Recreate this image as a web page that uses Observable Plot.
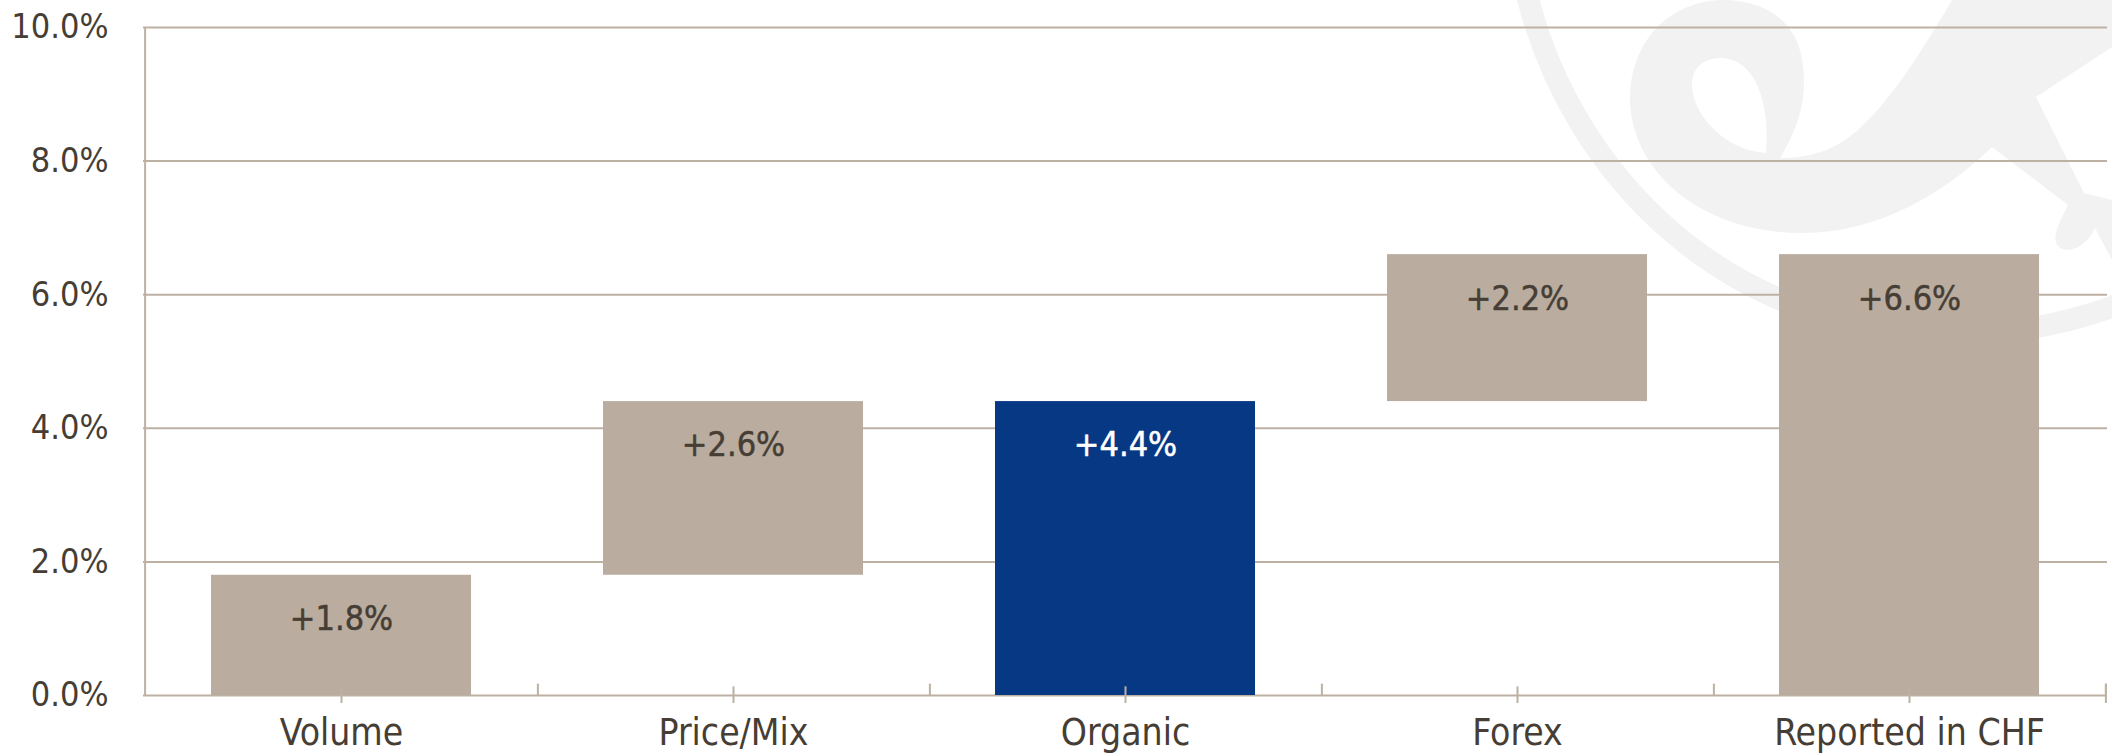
<!DOCTYPE html>
<html>
<head>
<meta charset="utf-8">
<script src="https://cdn.jsdelivr.net/npm/d3@7"></script>
<script src="https://cdn.jsdelivr.net/npm/@observablehq/plot@0.6"></script>
<style>
  html, body { margin: 0; padding: 0; background: #ffffff; overflow: hidden; }
  #chart svg { display: block; font-stretch: condensed; }
</style>
</head>
<body>
<div id="chart"></div>
<script>
// ---- data ----
const categories = ["Volume", "Price/Mix", "Organic", "Forex", "Reported in CHF"];
const changes = [1.8, 2.6, 4.4, 2.2, 6.6];
const bases = [0, 1.8, 0, 4.4, 0];
const highlighted = ["Organic"];
const yTicks = [0, 2, 4, 6, 8, 10];
const labels = changes.map(v => "+" + v.toFixed(1) + "%");

// ---- style ----
const W = 2112, H = 753;
const mL = 143, mR = 5, mT = 27, mB = 58;
const tan = "#baada0", blue = "#073884", grid = "#bdb1a4", ink = "#463d35";
const font = "'DejaVu Sans Condensed', 'DejaVu Sans', sans-serif";

const rows = categories.map((c, i) => ({
  category: c, base: bases[i], top: bases[i] + changes[i],
  label: labels[i], hi: highlighted.includes(c)
}));
const halfStep = (W - mL - mR) / categories.length / 2;

const chart = Plot.plot({
  width: W, height: H,
  marginLeft: mL, marginRight: mR, marginTop: mT, marginBottom: mB,
  style: { fontFamily: font, fontSize: "33px", color: ink, background: "transparent", overflow: "visible" },
  x: { type: "band", domain: categories, paddingInner: 0.336, paddingOuter: 0.168, label: null },
  y: { domain: [0, 10], label: null },
  color: { type: "identity" },
  marks: [
    Plot.ruleY(yTicks, { stroke: grid, strokeWidth: 2 }),
    Plot.ruleX(categories.slice(0, 1), { y1: 0, y2: 10, dx: -halfStep, stroke: grid, strokeWidth: 2 }),
    Plot.barY(rows, { x: "category", y1: "base", y2: "top", fill: d => d.hi ? blue : tan }),
    Plot.text(rows, { x: "category", y: "top", text: "label", dy: 44, fill: d => d.hi ? "#ffffff" : ink, fontSize: 34, stroke: d => d.hi ? "#ffffff" : ink, strokeWidth: 0.5 }),
    Plot.ruleX(categories, { y1: -0.12, y2: 0.13, stroke: grid, strokeWidth: 2 }),
    Plot.ruleX(categories, { y1: 0, y2: 0.17, dx: halfStep, stroke: grid, strokeWidth: 2 }),
    Plot.ruleX(categories.slice(-1), { y1: -0.12, y2: 0.17, dx: halfStep, stroke: grid, strokeWidth: 2 }),
    Plot.axisY({ ticks: yTicks, tickFormat: d => d.toFixed(1) + "%", tickSize: 0, tickPadding: 35, fontSize: 34, fill: ink }),
    Plot.axisX({ tickSize: 0, tickPadding: 23, fontSize: 37, fill: ink })
  ]
});

// decorative watermark (logo silhouette) behind the chart
const ns = "http://www.w3.org/2000/svg";
const wm = document.createElementNS(ns, "g");
wm.setAttribute("fill", "#f2f2f2");
const arc = document.createElementNS(ns, "path");
arc.setAttribute("d", "M1527,-5 C1572,175 1725,332 1950,334 C2030,334 2085,318 2130,300");
arc.setAttribute("fill", "none");
arc.setAttribute("stroke", "#f2f2f2");
arc.setAttribute("stroke-width", "22");
wm.appendChild(arc);
const body = document.createElementNS(ns, "path");
body.setAttribute("fill-rule", "evenodd");
body.setAttribute("d",
  "M1722,0 C1665,2 1630,45 1630,100 C1632,175 1705,233 1802,233 C1880,233 1945,192 1992,147 " +
  "L2068,205 C2058,225 2050,240 2060,248 C2075,255 2090,240 2095,228 L2112,260 L2112,200 L2084,193 L2036,97 L2112,47 L2112,0 L1952,0 " +
  "C1920,55 1890,100 1863,125 C1840,148 1815,158 1780,158 C1800,125 1808,95 1802,60 C1797,25 1770,0 1722,0 Z " +
  "M1766,153 C1722,150 1692,112 1692,85 C1692,68 1703,58 1722,58 C1757,60 1770,105 1766,153 Z");
wm.appendChild(body);
chart.insertBefore(wm, chart.firstChild);

document.getElementById("chart").appendChild(chart);
</script>
</body>
</html>
